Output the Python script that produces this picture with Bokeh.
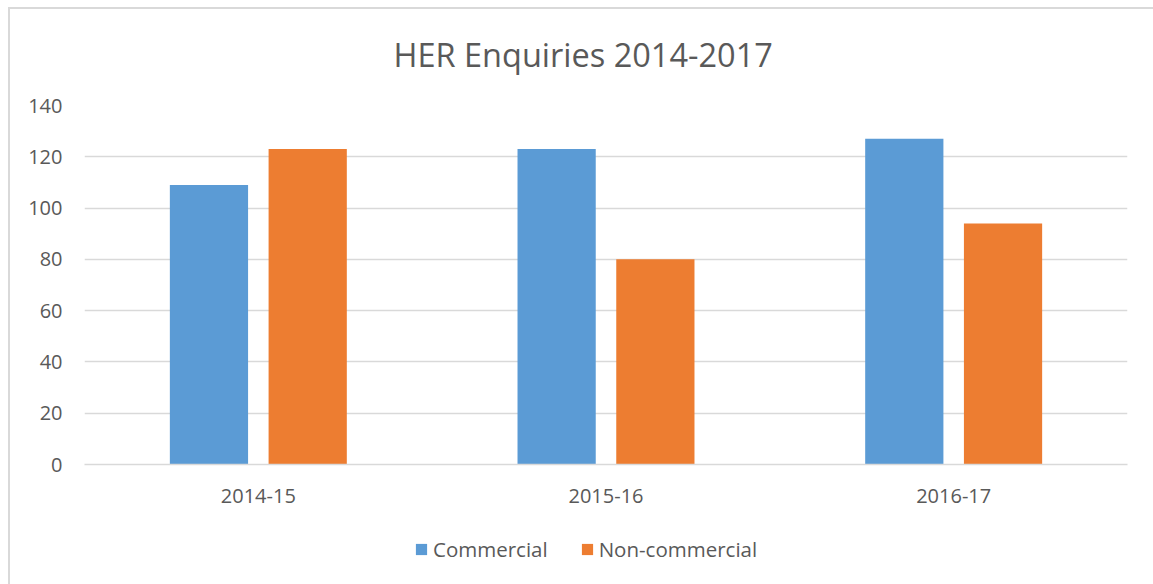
from bokeh.plotting import figure
from bokeh.layouts import column
from bokeh.models import FactorRange, Range1d, FixedTicker, Legend, LegendItem, ColumnDataSource
from bokeh.transform import dodge
from bokeh.embed import file_html
from bokeh.resources import INLINE

title_text = "HER Enquiries 2014-2017"
years = ["2014-15", "2015-16", "2016-17"]
commercial = [109, 123, 127]
non_commercial = [123, 80, 94]
series_names = ["Commercial", "Non-commercial"]
y_ticks = [0, 20, 40, 60, 80, 100, 120, 140]

BLUE = "#5B9BD5"
ORANGE = "#ED7D31"
TXT = "#595959"
GRID = "#d9d9d9"
FONT = "Open Sans"

src = ColumnDataSource(dict(years=years, commercial=commercial, non_commercial=non_commercial))

p = figure(
    x_range=FactorRange(*years, range_padding=0),
    y_range=Range1d(0, 140),
    frame_width=1043, frame_height=359,
    output_backend="svg", toolbar_location=None,
    min_border_left=84, min_border_right=26, min_border_top=105, min_border_bottom=56,
)
p.border_fill_alpha = 0
p.background_fill_color = "white"
p.styles = {"box-shadow": "inset 8px 7px 0 0 white, inset 10px 9px 0 0 #d9d9d9"}

p.title.text = title_text
p.title.align = "left"
p.title.offset = 309
p.title.text_font = FONT
p.title.text_font_size = "32.5px"
p.title.text_font_style = "normal"
p.title.text_color = TXT
p.title.standoff = 57

r1 = p.vbar(x=dodge("years", -0.142, range=p.x_range), top="commercial", width=0.225,
            source=src, fill_color=BLUE, line_color=None)
r2 = p.vbar(x=dodge("years", 0.142, range=p.x_range), top="non_commercial", width=0.225,
            source=src, fill_color=ORANGE, line_color=None)

p.outline_line_color = None
p.xgrid.grid_line_color = None
p.ygrid.grid_line_color = GRID
p.ygrid.grid_line_width = 1.3
p.yaxis.ticker = FixedTicker(ticks=y_ticks)

for ax in (p.xaxis, p.yaxis):
    ax.major_tick_line_color = None
    ax.minor_tick_line_color = None
    ax.major_tick_out = 0
    ax.major_tick_in = 0
    ax.minor_tick_out = 0
    ax.minor_tick_in = 0
    ax.major_label_text_font = FONT
    ax.major_label_text_font_size = "20px"
    ax.major_label_text_color = TXT
p.yaxis.axis_line_color = None
p.yaxis.major_label_standoff = 22
p.xaxis.axis_line_color = GRID
p.xaxis.axis_line_width = 1.3
p.xaxis.major_label_standoff = 24

# legend strip below the chart
p2 = figure(width=1153, height=64, output_backend="svg", toolbar_location=None,
            x_axis_type=None, y_axis_type=None,
            min_border_left=0, min_border_right=0, min_border_top=0, min_border_bottom=0)
p2.border_fill_alpha = 0
p2.background_fill_alpha = 0
p2.outline_line_color = None
p2.xgrid.grid_line_color = None
p2.ygrid.grid_line_color = None
p2.styles = {"box-shadow": "inset 8px 0 0 0 white, inset 10px 0 0 0 #d9d9d9"}
# zero-height placeholder keys so the legend swatches are drawn
key_src = ColumnDataSource(dict(x=[0], top=[0]))
k1 = p2.vbar(x="x", top="top", width=0.001, source=key_src, fill_color=BLUE, line_color=None)
k2 = p2.vbar(x="x", top="top", width=0.001, source=key_src, fill_color=ORANGE, line_color=None)

legend = Legend(items=[LegendItem(label=series_names[0], renderers=[k1]),
                       LegendItem(label=series_names[1], renderers=[k2])],
                orientation="horizontal", location=(330, 21))
legend.label_text_font = FONT
legend.label_text_font_size = "20.5px"
legend.label_text_color = TXT
legend.glyph_width = 14
legend.glyph_height = 14
legend.label_standoff = 5
legend.spacing = 32
legend.padding = 0
legend.margin = 0
legend.border_line_color = None
legend.background_fill_alpha = 0
p2.add_layout(legend, "center")

layout = column(p, p2, spacing=0)
open("out.html", "w").write(file_html(layout, INLINE))
